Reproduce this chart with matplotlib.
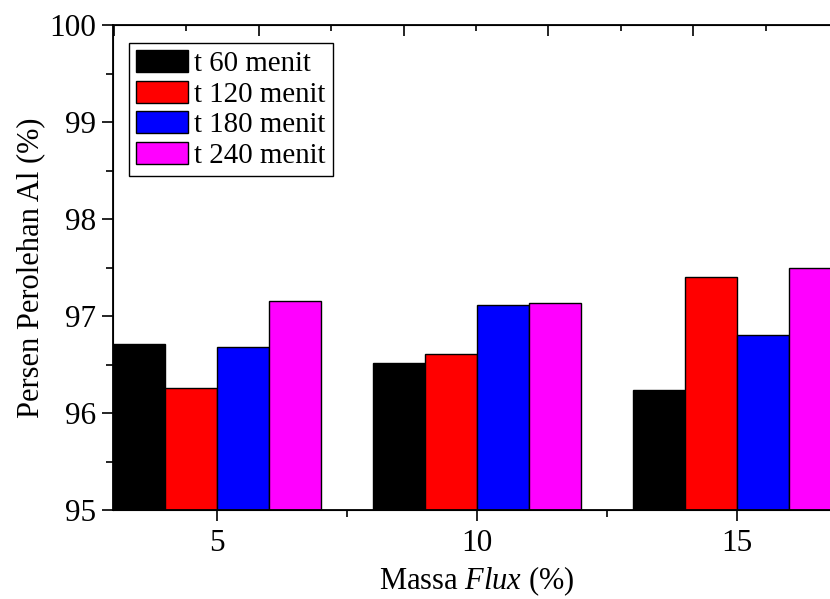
import matplotlib
matplotlib.use("Agg")
import matplotlib.pyplot as plt
from matplotlib.ticker import MultipleLocator
import numpy as np

plt.rcParams['font.family'] = ['Liberation Serif', 'DejaVu Serif']
plt.rcParams['mathtext.fontset'] = 'custom'
plt.rcParams['mathtext.rm'] = 'Liberation Serif'
plt.rcParams['mathtext.it'] = 'Liberation Serif:italic'

# data
massa = [5, 10, 15]
series = ['t 60 menit', 't 120 menit', 't 180 menit', 't 240 menit']
t60 = [96.71, 96.52, 96.24]
t120 = [96.26, 96.61, 97.40]
t180 = [96.68, 97.11, 96.80]
t240 = [97.15, 97.13, 97.49]
colors = ['black', 'red', 'blue', 'magenta']

fig = plt.figure(figsize=(8.3, 5.99), dpi=100)
# axes run past the right edge of the figure, as in the original crop
ax = fig.add_axes([113 / 830, 89 / 599, 728 / 830, 485 / 599])

x = np.array(massa, dtype=float)
w = 1.0
for i, (vals, lab, c) in enumerate(zip([t60, t120, t180, t240], series, colors)):
    ax.bar(x + (i - 1.5) * w, np.array(vals) - 95, bottom=95, width=w,
           color=c, edgecolor='black', linewidth=1, label=lab)

ax.set_xlim(3, 17)
ax.set_ylim(95, 100)
ax.set_xticks(massa)
ax.xaxis.set_minor_locator(MultipleLocator(2.5))
ax.yaxis.set_major_locator(MultipleLocator(1))
ax.yaxis.set_minor_locator(MultipleLocator(0.5))
ax.tick_params(which='major', direction='out', length=8, width=1.2, labelsize=22.5)
ax.tick_params(which='minor', direction='out', length=5, width=1.2)
ax.tick_params(axis='x', pad=6)
ax.tick_params(axis='y', pad=4)
for s in ax.spines.values():
    s.set_linewidth(1.3)

# top axis with its own tick spacing
top = ax.twiny()
top.set_xlim(-0.007, 728 / 145)
top.xaxis.set_major_locator(MultipleLocator(1))
top.xaxis.set_minor_locator(MultipleLocator(0.5))
top.tick_params(which='major', direction='in', length=8, width=1.2, labeltop=False)
top.tick_params(which='minor', direction='in', length=4, width=1.2)

ax.set_ylabel('Persen Perolehan Al (%)', fontsize=22)
ax.set_xlabel(r'Massa $\it{Flux}$ (%)', fontsize=22)
ax.yaxis.set_label_coords((45 - 113) / 728, 0.5)
ax.xaxis.set_label_coords((477 - 113) / 728, (510 - 564) / 485)

leg = ax.legend(loc='upper left', bbox_to_anchor=(16 / 728, (510 - 43) / 485), borderaxespad=0,
                fontsize=20.8, handlelength=1.8, handleheight=0.8, handletextpad=0.2,
                labelspacing=0.12, borderpad=0.25, fancybox=False, framealpha=1,
                edgecolor='black')
leg.get_frame().set_linewidth(1)

fig.savefig('out.png', dpi=100)
